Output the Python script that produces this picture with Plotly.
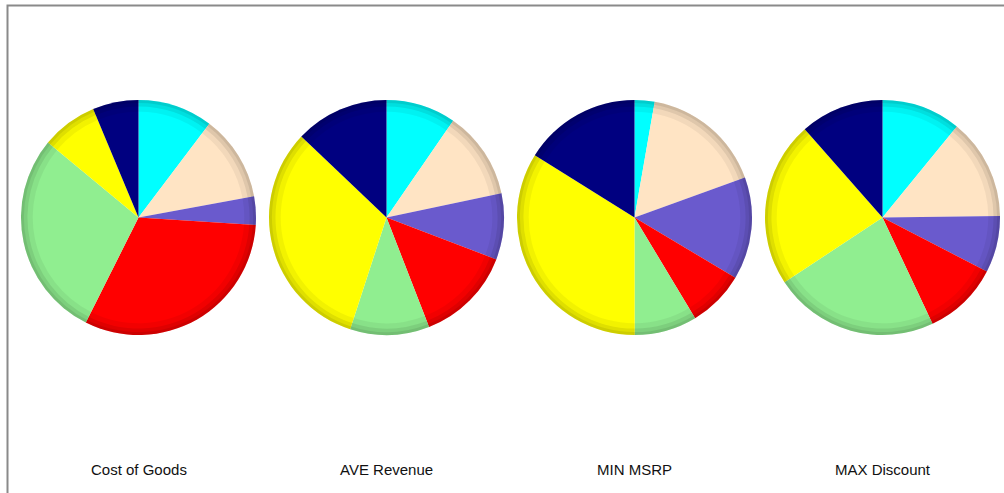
import plotly.graph_objects as go

categories = ["Cat 1", "Cat 2", "Cat 3", "Cat 4", "Cat 5", "Cat 6", "Cat 7"]
slice_colors = ["#00FFFF", "#FFE4C4", "#6A5ACD", "#FF0000", "#90EE90", "#FFFF00", "#000080"]

measures = ["Cost of Goods", "AVE Revenue", "MIN MSRP", "MAX Discount"]
cost_of_goods = [10.3, 11.8, 3.9, 31.4, 28.6, 7.7, 6.3]
ave_revenue = [9.6, 12.1, 9.1, 13.3, 10.9, 32.1, 12.9]
min_msrp = [2.75, 16.7, 14.1, 7.8, 8.6, 33.9, 16.1]
max_discount = [10.9, 13.9, 7.8, 10.4, 22.7, 22.8, 11.5]
series = [cost_of_goods, ave_revenue, min_msrp, max_discount]

W, H = 1004, 493
centers_x = [138.5, 386.5, 634.5, 882.5]
center_y = 217.5
radius = 117.5

fig = go.Figure()
for name, vals, cx in zip(measures, series, centers_x):
    dom = dict(x=[(cx - radius) / W, (cx + radius) / W],
               y=[1 - (center_y + radius) / H, 1 - (center_y - radius) / H])
    fig.add_trace(go.Pie(
        labels=categories, values=vals, name=name,
        sort=False, direction="clockwise", rotation=0,
        textinfo="none", hoverinfo="label+value+name",
        marker=dict(colors=slice_colors, line=dict(width=0)),
        domain=dom, showlegend=False,
    ))
    # soft bevel-like darker rim
    for hole, alpha in [(0.90, 0.05), (0.945, 0.08), (0.975, 0.08)]:
        fig.add_trace(go.Pie(
            labels=categories, values=vals, name=name,
            sort=False, direction="clockwise", rotation=0, hole=hole,
            textinfo="none", hoverinfo="skip",
            marker=dict(colors=[f"rgba(0,0,0,{alpha})"] * len(categories), line=dict(width=0)),
            domain=dom, showlegend=False,
        ))
    fig.add_annotation(text=name, x=cx / W, y=1 - 469 / H, xref="paper", yref="paper",
                       showarrow=False, xanchor="center", yanchor="middle",
                       font=dict(family="Liberation Sans, Arial", size=15, color="#111111"))

fig.add_shape(type="rect", xref="paper", yref="paper",
              x0=7.5 / W, x1=1.05, y0=-0.05, y1=1 - 5.5 / H,
              line=dict(color="#8a8a8a", width=2))

fig.update_layout(width=W, height=H, margin=dict(l=0, r=0, t=0, b=0),
                  paper_bgcolor="white", plot_bgcolor="white", showlegend=False)
fig.write_html("out.html", config={"displayModeBar": False},
               post_script="document.body.style.margin='0px';")
